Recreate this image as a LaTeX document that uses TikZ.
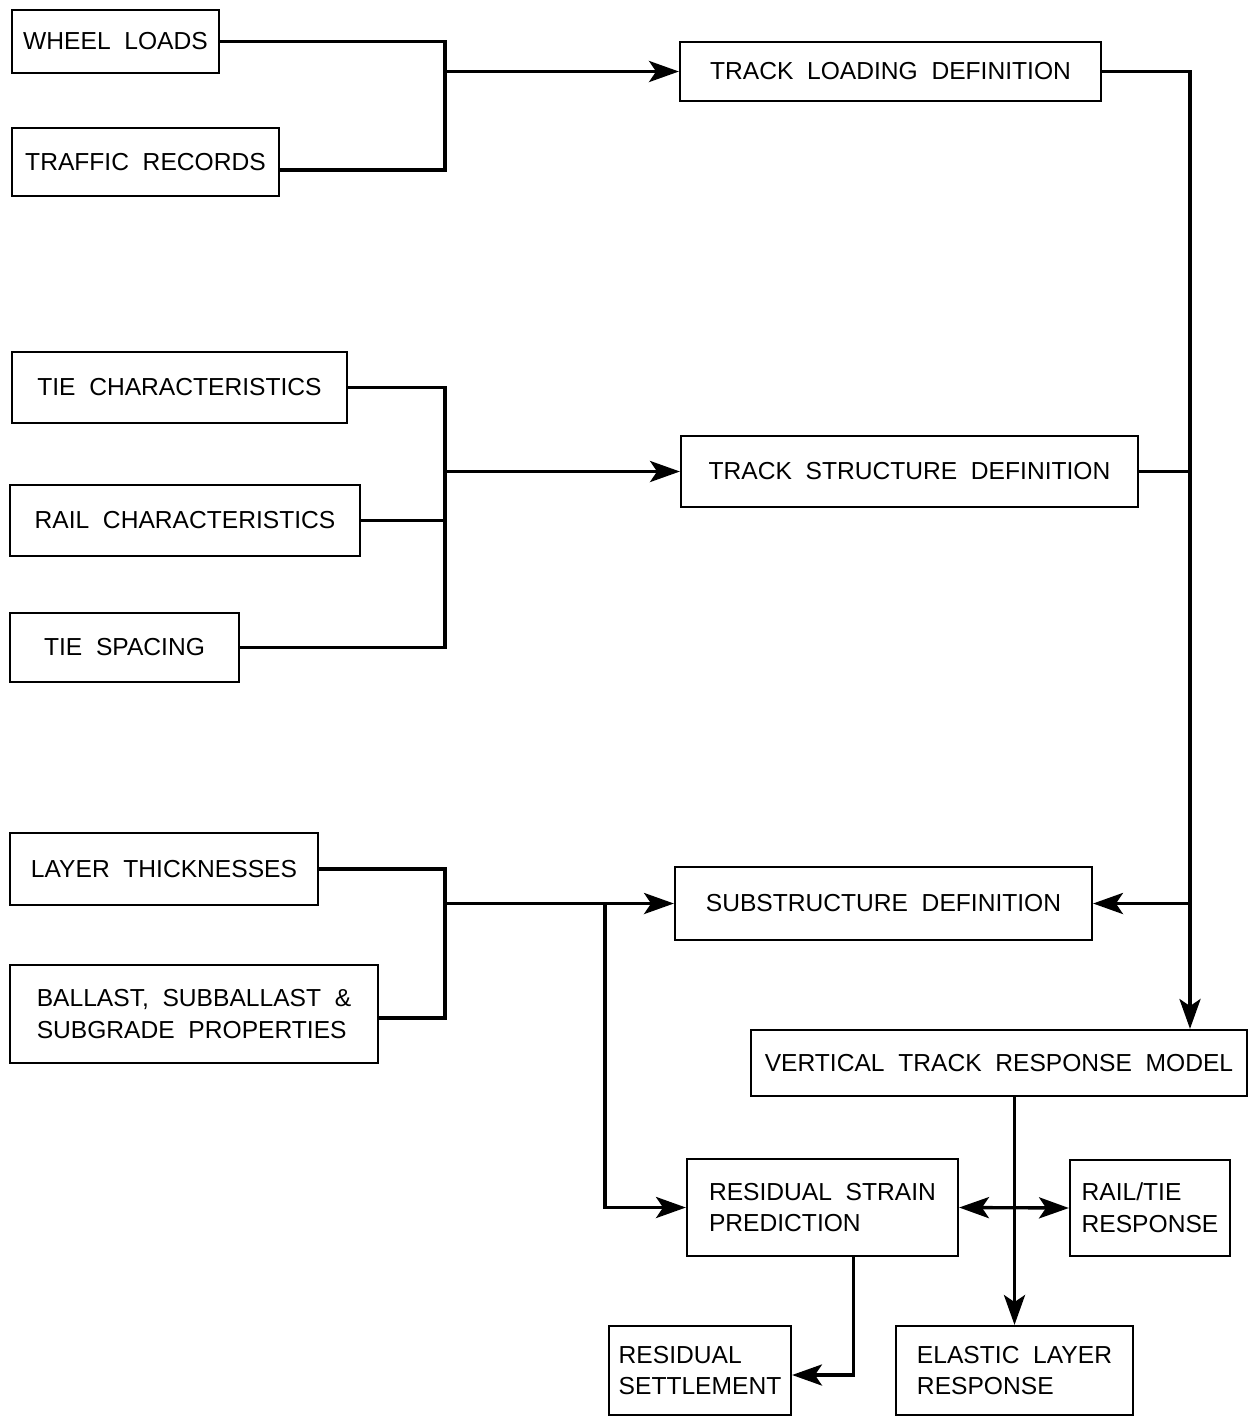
\documentclass[tikz,border=0pt]{standalone}
\usepackage{fontspec}
\setmainfont[WordSpace=2]{Liberation Sans}
\usetikzlibrary{arrows.meta}

\tikzset{
  blk/.style={draw,line width=1.3pt,inner sep=0pt,align=left,font=\fontsize{14}{18}\selectfont},
  lnk/.style={line width=1.9pt},
  arr/.style={lnk,-{Stealth[length=17pt,width=12pt,inset=4pt]}},
  dbl/.style={lnk,{Stealth[length=17pt,width=12pt,inset=4pt]}-{Stealth[length=17pt,width=12pt,inset=4pt]}}
}

\begin{document}
\begin{tikzpicture}[x=0.02cm,y=-0.02cm]
\useasboundingbox (0,0) rectangle (1250,1417);
% inputs
\node[blk,minimum width=4.14cm,minimum height=1.26cm] (wheel) at (115.5,41.5) {WHEEL LOADS};
\node[blk,minimum width=5.34cm,minimum height=1.36cm] (traffic) at (145.5,162) {TRAFFIC RECORDS};
\node[blk,minimum width=6.7cm,minimum height=1.42cm] (tiechar) at (179.5,387.5) {TIE CHARACTERISTICS};
\node[blk,minimum width=7cm,minimum height=1.42cm] (railchar) at (185,520.5) {RAIL CHARACTERISTICS};
\node[blk,minimum width=4.58cm,minimum height=1.38cm] (tiesp) at (124.5,647.5) {TIE SPACING};
\node[blk,minimum width=6.16cm,minimum height=1.44cm] (layer) at (164,869) {LAYER THICKNESSES};
\node[blk,minimum width=7.36cm,minimum height=1.96cm] (ballast) at (194,1014) {BALLAST, SUBBALLAST \&\\SUBGRADE PROPERTIES};
% definitions
\node[blk,minimum width=8.42cm,minimum height=1.18cm] (trackload) at (890.5,71.5) {TRACK LOADING DEFINITION};
\node[blk,minimum width=9.14cm,minimum height=1.42cm] (trackstr) at (909.5,471.5) {TRACK STRUCTURE DEFINITION};
\node[blk,minimum width=8.34cm,minimum height=1.46cm] (subs) at (883.5,903.5) {SUBSTRUCTURE DEFINITION};
% model and results
\node[blk,minimum width=9.92cm,minimum height=1.32cm] (vtrm) at (999,1063) {VERTICAL TRACK RESPONSE MODEL};
\node[blk,minimum width=5.42cm,minimum height=1.94cm] (resstrain) at (822.5,1207.5) {RESIDUAL STRAIN\\PREDICTION};
\node[blk,minimum width=3.2cm,minimum height=1.92cm] (railtie) at (1150,1208) {RAIL/TIE\\RESPONSE};
\node[blk,minimum width=3.64cm,minimum height=1.78cm] (ressettle) at (700,1370.5) {RESIDUAL\\SETTLEMENT};
\node[blk,minimum width=4.74cm,minimum height=1.78cm] (elastic) at (1014.5,1370.5) {ELASTIC LAYER\\RESPONSE};

\coordinate (j1) at (445,71.5);
\coordinate (j2) at (445,471.5);
\coordinate (j3) at (445,903.5);
\coordinate (j4) at (605,903.5);
\coordinate (r1) at (1190,71.5);

\draw[lnk] (wheel.east) -| (j1) |- ([yshift=-0.16cm]traffic.east);
\draw[arr] (j1) -- (trackload.west);
\draw[lnk] (tiechar.east) -| (j2) |- (tiesp.east);
\draw[lnk] (railchar.east) -- (railchar.east -| j2);
\draw[arr] (j2) -- (trackstr.west);
\draw[lnk] (layer.east) -| (j3) |- ([yshift=-0.08cm]ballast.east);
\draw[arr] (j3) -- (subs.west);
\draw[arr] (j4) |- (resstrain.west);

\draw[arr] (trackload.east) -| (r1 |- vtrm.north);
\draw[lnk] (trackstr.east) -- (trackstr.east -| r1);
\draw[arr] (r1 |- subs.east) -- (subs.east);

\draw[arr] (elastic.north |- vtrm.south) -- (elastic.north);
\draw[dbl] (resstrain.east) -- (railtie.west);
\draw[arr] ([xshift=0.62cm]resstrain.south) |- ([yshift=-0.09cm]ressettle.east);
\end{tikzpicture}
\end{document}
